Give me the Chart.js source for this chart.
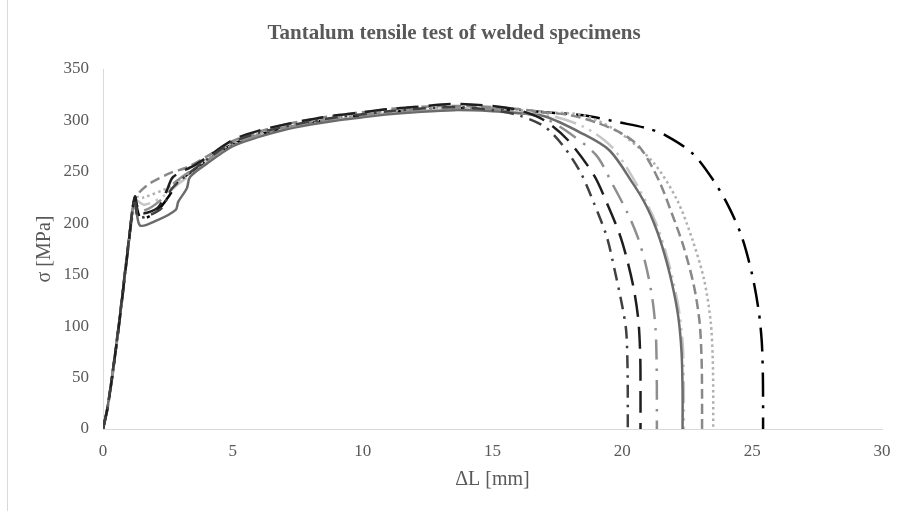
<!DOCTYPE html>
<html>
<head>
<meta charset="utf-8">
<script src="https://cdn.jsdelivr.net/npm/chart.js@4"></script>
<style>
html,body{margin:0;padding:0;background:#fff;}
#wrap{width:905px;height:511px;position:relative;}
</style>
</head>
<body>
<div id="wrap"><canvas id="c" width="905" height="511"></canvas></div>
<script>
const chartTitle = "Tantalum tensile test of welded specimens";
const xTitle = "ΔL [mm]";
const yTitle = "σ [MPa]";
const xTicks = [0, 5, 10, 15, 20, 25, 30];
const yTicks = [0, 50, 100, 150, 200, 250, 300, 350];

// Specimen 1 – dark grey dash-dot
const s1x = [0, 0.2, 0.6, 1.0, 1.22, 1.35, 1.8, 2.3, 2.6, 3.0, 4, 5, 6, 7, 8, 9, 10, 11, 12, 13.5, 15, 16, 17, 17.7, 18.4, 18.9, 19.4, 19.7, 20.0, 20.15, 20.2, 20.21, 20.21];
const s1y = [0, 25, 100, 185, 224, 206, 208, 216, 232, 242, 262, 279, 288, 294, 299, 303, 306, 309, 311, 313, 310, 305, 294, 276, 249, 220, 187, 155, 119, 95, 60, 30, 0];
// Specimen 2 – black long dash
const s2x = [0, 0.2, 0.6, 1.0, 1.23, 1.42, 2.1, 2.46, 2.7, 3.5, 4, 5, 6, 7, 8, 9, 10, 11, 12, 13.5, 15, 16, 17, 17.9, 18.9, 19.4, 19.9, 20.2, 20.45, 20.62, 20.69, 20.7, 20.7];
const s2y = [0, 24, 98, 183, 226, 210, 215, 232, 245, 256, 264, 281, 290, 296, 301, 305, 308, 311, 313, 316, 314, 310, 300, 281, 247, 220, 189, 163, 135, 105, 70, 35, 0];
// Specimen 3 – grey long dash-dot
const s3x = [0, 0.2, 0.6, 1.0, 1.2, 1.5, 2.2, 2.6, 3.2, 4, 5, 6, 7, 8, 9, 10, 11, 12, 13.5, 15, 16, 17, 18, 19.0, 19.6, 20.2, 20.6, 20.9, 21.15, 21.28, 21.32, 21.33, 21.33];
const s3y = [0, 23, 97, 182, 220, 212, 222, 236, 248, 261, 277, 286, 293, 298, 302, 305, 308, 310, 312, 311, 308, 302, 287, 266, 239, 210, 186, 160, 128, 97, 65, 32, 0];
// Specimen 4 – solid grey
const s4x = [0, 0.2, 0.6, 1.0, 1.23, 1.42, 2.1, 2.8, 2.9, 3.23, 3.35, 4, 5, 6, 7, 8, 9, 10, 11, 12, 13.5, 15, 16, 17, 18.4, 19.5, 20.4, 20.9, 21.3, 21.6, 21.9, 22.15, 22.28, 22.32, 22.32];
const s4y = [0, 25, 99, 184, 225, 198, 203, 213, 221, 234, 245, 258, 275, 284, 291, 296, 300, 303, 306, 308, 310, 309, 307, 304, 288, 271, 239, 218, 195, 172, 143, 110, 75, 38, 0];
// Specimen 5 – light grey long dash-dot-dot
const s5x = [0, 0.2, 0.6, 1.0, 1.25, 1.6, 2.3, 3.0, 4, 5, 6, 7, 8, 9, 10, 11, 12, 13.5, 15, 16, 17, 18.5, 19.6, 20.5, 21.3, 21.8, 22.15, 22.32, 22.36, 22.37, 22.37];
const s5y = [0, 24, 98, 183, 222, 218, 226, 240, 260, 276, 285, 292, 297, 301, 304, 307, 309, 311, 310, 308, 306, 294, 274, 240, 200, 160, 120, 85, 55, 28, 0];
// Specimen 6 – grey dash
const s6x = [0, 0.2, 0.6, 1.0, 1.25, 1.7, 2.6, 3.2, 4, 5, 6, 7, 8, 9, 10, 11, 12, 13.5, 15, 16, 17, 18, 19, 20, 20.7, 21.4, 21.9, 22.35, 22.75, 22.97, 23.05, 23.07, 23.07];
const s6y = [0, 25, 99, 184, 224, 237, 249, 254, 265, 280, 289, 296, 301, 305, 308, 311, 313, 314, 313, 311, 308, 305, 298, 287, 273, 242, 210, 178, 140, 105, 70, 35, 0];
// Specimen 7 – light grey round dot
const s7x = [0, 0.2, 0.6, 1.0, 1.3, 1.54, 2.46, 3.0, 4, 5, 6, 7, 8, 9, 10, 11, 12, 13.5, 15, 16, 17, 18.5, 19.9, 21.2, 22.1, 22.7, 23.15, 23.4, 23.48, 23.5, 23.5];
const s7y = [0, 24, 98, 183, 225, 225, 234, 243, 262, 278, 287, 294, 299, 303, 306, 309, 311, 312, 311, 310, 308, 305, 288, 259, 223, 184, 145, 105, 70, 35, 0];
// Specimen 8 – black long dash-dot
const s8x = [0, 0.2, 0.6, 1.0, 1.22, 1.45, 2.0, 2.5, 2.9, 3.5, 4, 5, 6, 7, 8, 9, 10, 11, 12, 13.5, 15, 16, 17, 18.5, 19.9, 21.0, 21.7, 22.7, 23.5, 24.1, 24.6, 25.0, 25.25, 25.37, 25.41, 25.42, 25.42];
const s8y = [0, 24, 98, 184, 223, 205, 210, 225, 240, 252, 261, 277, 286, 293, 298, 302, 305, 308, 310, 312, 311, 310, 308, 305, 298, 292, 285, 268, 242, 216, 187, 150, 115, 85, 55, 28, 0];

const seriesX = [s1x, s2x, s3x, s4x, s5x, s6x, s7x, s8x];
const seriesY = [s1y, s2y, s3y, s4y, s5y, s6y, s7y, s8y];
const styles = [
  {c: '#404040', d: [13, 7, 2.5, 7]},
  {c: '#1e1e1e', d: [22, 10]},
  {c: '#8e8e8e', d: [20, 9, 2.5, 9]},
  {c: '#6b6b6b', d: []},
  {c: '#c6c6c6', d: [22, 6, 2.5, 6, 2.5, 6]},
  {c: '#888888', d: [10, 5]},
  {c: '#b0b0b0', d: [2.5, 3.2]},
  {c: '#000000', d: [24, 9, 3, 9]}
];

const datasets = seriesX.map((xs, i) => ({
  label: 'Specimen ' + (i + 1),
  data: xs.map((x, j) => ({x: x, y: seriesY[i][j]})),
  showLine: true,
  borderColor: styles[i].c,
  backgroundColor: styles[i].c,
  borderWidth: 2.5,
  borderDash: styles[i].d,
  pointRadius: 0,
  pointHoverRadius: 0,
  tension: 0.3,
  fill: false
}));

const serif = "'Liberation Serif', 'Times New Roman', serif";

const frame = {
  id: 'frame',
  beforeDraw(chart) {
    const ctx = chart.ctx;
    ctx.save();
    ctx.fillStyle = '#ffffff';
    ctx.fillRect(0, 0, chart.width, chart.height);
    ctx.strokeStyle = '#d9d9d9';
    ctx.lineWidth = 1;
    ctx.beginPath();
    ctx.moveTo(7.5, 0);
    ctx.lineTo(7.5, chart.height);
    ctx.stroke();
    ctx.fillStyle = '#595959';
    ctx.font = "bold 21px " + serif;
    ctx.textAlign = 'center';
    ctx.textBaseline = 'middle';
    ctx.fillText(chartTitle, 454, 34);
    ctx.restore();
  }
};

new Chart(document.getElementById('c'), {
  type: 'scatter',
  data: {datasets},
  plugins: [frame],
  options: {
    responsive: false,
    animation: false,
    devicePixelRatio: 1,
    layout: {padding: {left: 0, right: 23, top: 69, bottom: 0}},
    plugins: {
      legend: {display: false},
      tooltip: {enabled: false},
      title: {display: false}
    },
    scales: {
      x: {
        type: 'linear',
        min: xTicks[0], max: xTicks[xTicks.length - 1],
        afterBuildTicks(s) { s.ticks = xTicks.map(v => ({value: v})); },
        afterFit(s) { s.height = 82; },
        ticks: {color: '#595959', font: {family: serif, size: 17}, padding: 12},
        grid: {display: true, drawOnChartArea: false, drawTicks: false},
        border: {display: true, color: '#d9d9d9', width: 1},
        title: {display: true, text: xTitle, color: '#595959', font: {family: serif, size: 20, lineHeight: 1.2}, padding: {top: 0, bottom: 19}}
      },
      y: {
        type: 'linear',
        min: yTicks[0], max: yTicks[yTicks.length - 1],
        afterBuildTicks(s) { s.ticks = yTicks.map(v => ({value: v})); },
        afterFit(s) { s.width = 103; },
        ticks: {color: '#595959', font: {family: serif, size: 17}, padding: 14},
        grid: {display: true, drawOnChartArea: false, drawTicks: false},
        border: {display: true, color: '#d9d9d9', width: 1},
        title: {display: true, text: yTitle, color: '#595959', font: {family: serif, size: 20, lineHeight: 1.2}, padding: {top: 33, bottom: 0}}
      }
    }
  }
});
</script>
</body>
</html>
